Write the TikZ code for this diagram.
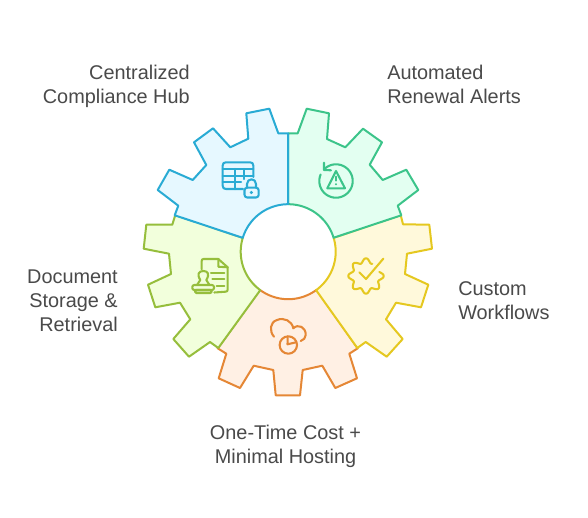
\documentclass[tikz,border=0pt]{standalone}
\usepackage{fontspec}
\setmainfont{Liberation Sans}
\definecolor{cblue}{HTML}{29ABD4}\definecolor{fblue}{HTML}{E6F8FF}
\definecolor{cgreen}{HTML}{3CC48A}\definecolor{fgreen}{HTML}{E3FFF1}
\definecolor{cyel}{HTML}{E5C820}\definecolor{fyel}{HTML}{FFF9DB}
\definecolor{corg}{HTML}{E58735}\definecolor{forg}{HTML}{FFF0E4}
\definecolor{clime}{HTML}{96BE3C}\definecolor{flime}{HTML}{F2FFDC}
\definecolor{txt}{HTML}{4A4A4A}
\newcommand{\hx}{288.2+47.5*cos(\x)}
\newcommand{\hy}{251.7-47.5*sin(\x)}
\tikzset{
 tooth/.style 2 args={draw=#1,fill=#2,line width=1.5pt,line join=round},
 ico/.style={draw=#1,line width=1.55pt,line cap=round,line join=round},
 lbl/.style={text=txt,font=\fontsize{14.9pt}{18pt}\selectfont,inner sep=0pt},
 hole/.style={smooth,samples=24}
}
\begin{document}
\begin{tikzpicture}[x=0.75pt,y=-0.75pt]
\useasboundingbox[fill=white] (0,0) rectangle (588,517);
% segments
\draw[tooth={corg}{forg}] (259.7,290) -- plot[hole,domain=234:306] ({\hx},{\hy}) -- (316.7,290) -- (357.7,348.3) -- (349.3,353.7) -- (357,378.3) -- (335.3,388) -- (322.3,365.7) -- (302.7,370) -- (300,395.3) -- (275.7,395.3) -- (273.3,370) -- (253.7,365.7) -- (240,388) -- (218.7,378.3) -- (226.3,353.7) -- (217.7,348.3) -- cycle;
\draw[tooth={cyel}{fyel}] (334,237.7) -- (400.7,215) -- (403,224.3) -- (429.3,224.7) -- (432,248.7) -- (407,253.7) -- (405,274) -- (428.3,284.7) -- (421,307.3) -- (396,302.7) -- (386,319.3) -- (402.7,339) -- (386.7,356.7) -- (365.7,342) -- (357.3,348) -- (316,290) -- plot[hole,domain=-54:17] ({\hx},{\hy}) -- cycle;
\draw[tooth={clime}{flime}] (175.3,215) -- (242.3,237.7) -- plot[hole,domain=163:234] ({\hx},{\hy}) -- (218.3,348) -- (210,342) -- (189,356.7) -- (173.3,339) -- (190.3,319.3) -- (180,302.7) -- (155.3,307.3) -- (148,284.7) -- (171,274) -- (169,253.7) -- (143.7,248.7) -- (146.3,224.7) -- (172.3,224.7) -- cycle;
\draw[tooth={cgreen}{fgreen}] (288.2,133.3) -- (297.7,133.3) -- (306.7,108.7) -- (329,113.3) -- (327,139) -- (345.3,147.3) -- (363,128.7) -- (382,142.3) -- (369.7,164.7) -- (382.7,180) -- (406.3,169.7) -- (418.3,190) -- (397.7,205.7) -- (401.3,215.3) -- (333.7,237.7) -- plot[hole,domain=17:90] ({\hx},{\hy}) -- cycle;
\draw[tooth={cblue}{fblue}] (288.2,133.3) -- (278.3,133.3) -- (269.3,108.7) -- (246.3,113.3) -- (248.3,138.7) -- (230.3,147.3) -- (213,128.3) -- (194,142.3) -- (206.3,165) -- (192.7,180) -- (169.3,169.7) -- (157.7,190) -- (178.3,205.7) -- (174.7,215.3) -- (242.3,237.7) -- plot[hole,domain=163:90] ({\hx},{\hy}) -- cycle;
% table + lock icon
\draw[ico=cblue] (243,189) -- (226,189) .. controls (223.8,189) and (222.7,187.9) .. (222.7,185.7) -- (222.7,165.6) .. controls (222.7,163.4) and (223.8,162.3) .. (226,162.3) -- (250,162.3) .. controls (252.2,162.3) and (253.3,163.4) .. (253.3,165.6) -- (253.3,177);
\draw[ico=cblue] (222.7,169) -- (253.3,169) (222.7,175.7) -- (253.3,175.7) (222.7,182.3) -- (241,182.3) (235,169) -- (235,189) (244.3,169) -- (244.3,179);
\draw[ico=cblue,rounded corners=2pt] (244.5,187.7) rectangle (258.7,197.5);
\draw[ico=cblue] (247,187.5) -- (247,184) .. controls (247,177.8) and (256,177.8) .. (256,184) -- (256,187.5);
\fill[cblue] (251.4,192.5) circle (1.7);
% alert icon
\draw[ico=cgreen] plot[smooth,domain=137:-203,samples=60] ({336+16.7*cos(\x)},{181-16.7*sin(\x)});
\draw[ico=cgreen] (324,162.7) -- (324,170) -- (331,170.3);
\draw[ico=cgreen] (336,171) -- (345,188.3) -- (327.3,188.3) -- cycle;
\draw[ico=cgreen] (336,176.7) -- (336,180.5);
\fill[cgreen] (336,184.3) circle (1.1);
% badge icon
\draw[ico=cyel] plot[smooth,domain=63:377,samples=120] ({366+15.5*cos(\x)+2.2*cos(8*\x)*cos(\x)},{276-15.5*sin(\x)-2.2*cos(8*\x)*sin(\x)});
\draw[ico=cyel] (359.3,272.3) -- (366,279) -- (383.3,258.7);
% cloud icon
\draw[ico=corg] (274,336.7) .. controls (269,331) and (270,322) .. (277,320) .. controls (284,317) and (292,321) .. (293.3,328.3) .. controls (298,323.5) and (306,327) .. (305.7,335) .. controls (305.7,338) and (303.5,340) .. (300.7,341);
\draw[ico=corg] (288.3,345) circle (8.7);
\draw[ico=corg] (287.7,336.5) -- (287.5,344.3) -- (296,342.3);
% stamp icon
\draw[ico=clime] (201.7,269.3) -- (201.7,261) .. controls (201.7,259.6) and (202.4,259) .. (203.5,259) -- (218.3,259) -- (227.7,267.3) -- (227.7,289.5) .. controls (227.7,291) and (227,291.7) .. (225.5,291.7) -- (214.3,292.5);
\draw[ico=clime] (218.3,259) -- (218.3,266.7) -- (227.7,267.3);
\draw[ico=clime] (211,272.7) -- (224.3,272.7) (212.3,279.3) -- (224.3,279.3) (216.7,285.7) -- (224.3,285.7);
\draw[ico=clime] (200.3,280) .. controls (196.5,274) and (199,271) .. (203.3,271) .. controls (207.6,271) and (210.1,274) .. (206.3,280) -- (209.5,285) (200.3,280) -- (197,285);
\draw[ico=clime,rounded corners=1.5pt] (192.3,285) rectangle (214,290);
\draw[ico=clime,rounded corners=1pt] (195,290) rectangle (211.7,293);
% labels
\node[lbl,align=right,anchor=east] (a) at (190,87) {\strut Centralized\\\strut Compliance Hub};
\node[lbl,align=left,anchor=west] (b) at (387,87) {\strut Automated\\\strut Renewal Alerts};
\node[lbl,align=left,anchor=west] (c) at (458,303) {\strut Custom\\\strut Workflows};
\node[lbl,align=center,anchor=center] (d) at (285.5,447) {\strut One-Time Cost +\\\strut Minimal Hosting};
\node[lbl,align=right,anchor=east] (e) at (118,303) {\strut Document\\\strut Storage \&\\\strut Retrieval};
\end{tikzpicture}
\end{document}
